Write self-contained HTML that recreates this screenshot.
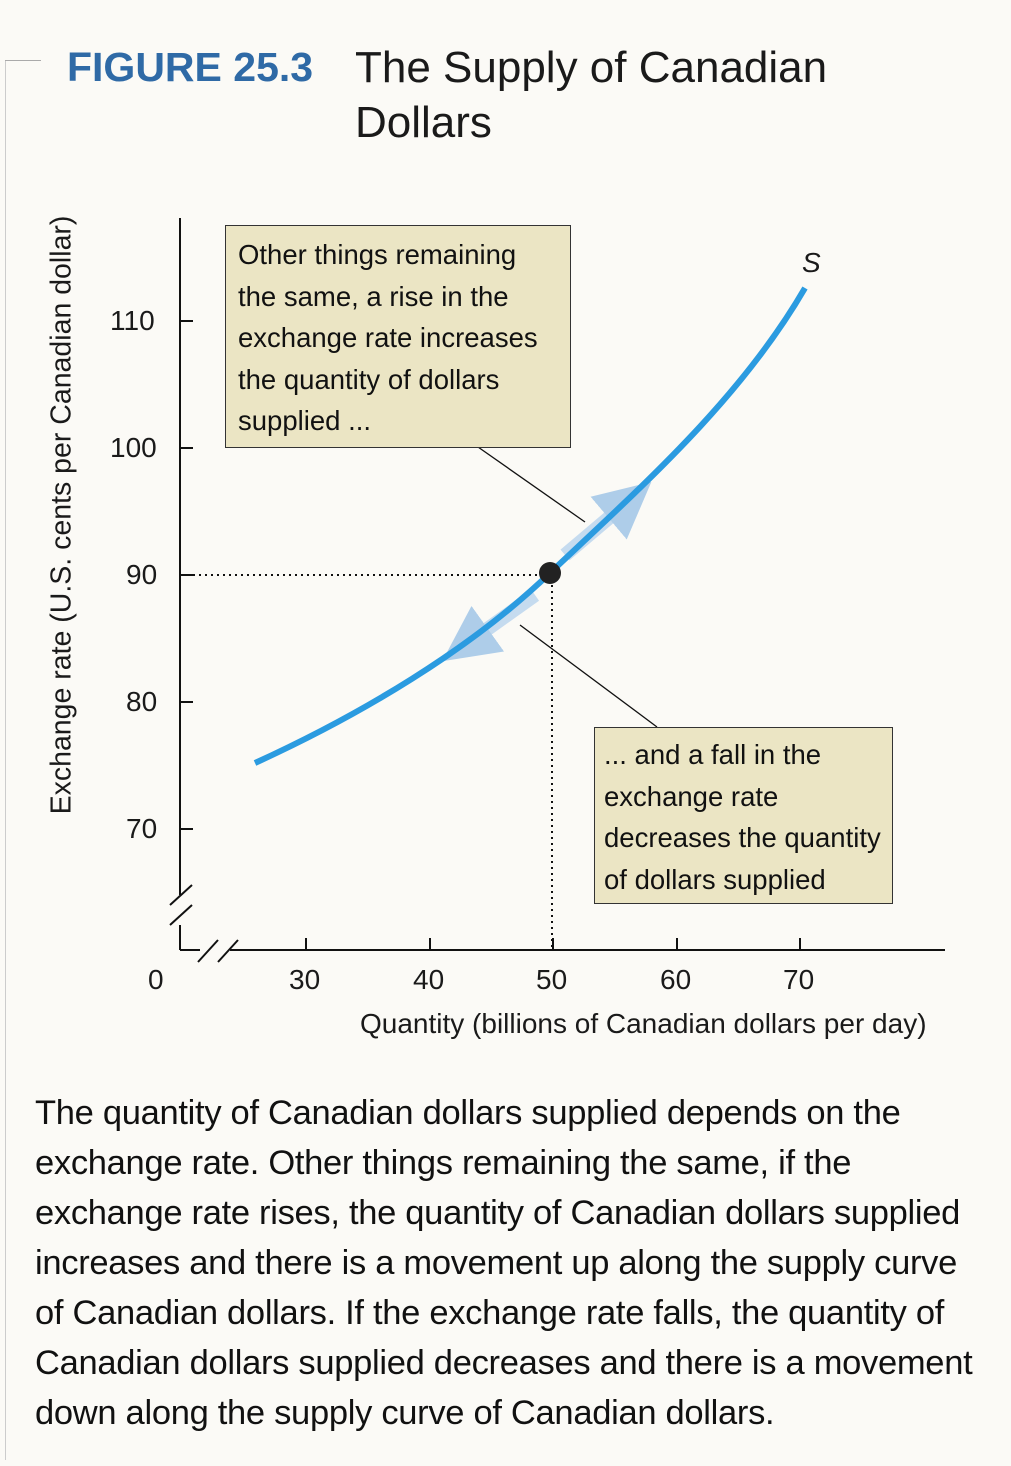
<!DOCTYPE html>
<html><head><meta charset="utf-8"><style>
body{margin:0;width:1011px;height:1466px;background:#fbfaf6;overflow:hidden;position:relative;font-family:"Liberation Sans",sans-serif;}
.t{position:absolute;white-space:nowrap;color:#1a1a1a;}
.box{position:absolute;background:#ebe5c4;border:1.5px solid #333;box-sizing:border-box;}
.box div{font-size:27.5px;line-height:41.5px;color:#111;}
.cap{position:absolute;left:35px;top:1088px;font-size:34.5px;line-height:50px;color:#111;letter-spacing:-0.3px;white-space:nowrap;}
</style></head><body>
<div style="position:absolute;left:5px;top:60px;width:1px;height:1400px;background:#ccc"></div>
<div style="position:absolute;left:5px;top:60px;width:36px;height:1px;background:#aaa"></div>
<div class="t" style="left:67px;top:44px;font-size:41px;font-weight:bold;color:#2f6aa6;">FIGURE 25.3</div>
<div class="t" style="left:355px;top:40px;font-size:44px;line-height:55px;">The Supply of Canadian<br>Dollars</div>

<svg style="position:absolute;left:0;top:0" width="1011" height="1466">
<defs><marker id="a" markerWidth="4" markerHeight="4" refX="2" refY="2" orient="auto"><path d="M0,0 L4,2 L0,4z" fill="#9cc3e6"/></marker></defs>
<line x1="180" y1="218" x2="180" y2="895" stroke="#111" stroke-width="2"/>
<line x1="180" y1="925" x2="180" y2="950" stroke="#111" stroke-width="2"/>
<line x1="180" y1="950" x2="200" y2="950" stroke="#111" stroke-width="2"/>
<line x1="230" y1="950" x2="945" y2="950" stroke="#111" stroke-width="2"/>
<path d="M170,905 L192,885 M170,925 L192,905 M198,962 L218,940 M218,962 L238,940" stroke="#111" stroke-width="2"/>
<g stroke="#111" stroke-width="2">
<line x1="180" y1="321" x2="193" y2="321"/><line x1="180" y1="448" x2="193" y2="448"/><line x1="180" y1="575" x2="193" y2="575"/><line x1="180" y1="702" x2="193" y2="702"/><line x1="180" y1="829" x2="193" y2="829"/>
<line x1="306" y1="938" x2="306" y2="950"/><line x1="430" y1="938" x2="430" y2="950"/><line x1="553" y1="938" x2="553" y2="950"/><line x1="677" y1="938" x2="677" y2="950"/><line x1="800" y1="938" x2="800" y2="950"/>
</g>
<line x1="187" y1="575" x2="540" y2="575" stroke="#111" stroke-width="2" stroke-dasharray="2,4"/>
<line x1="552" y1="585" x2="552" y2="948" stroke="#111" stroke-width="2" stroke-dasharray="2,4"/>
<line x1="478" y1="447" x2="585" y2="522" stroke="#111" stroke-width="1.3"/>
<line x1="520" y1="625" x2="657" y2="727" stroke="#111" stroke-width="1.3"/>
<line x1="565" y1="555" x2="630" y2="500" stroke="#b8d4ee" stroke-width="14" marker-end="url(#a)" opacity="0.8"/>
<line x1="535" y1="595" x2="465" y2="645" stroke="#b8d4ee" stroke-width="14" marker-end="url(#a)" opacity="0.8"/>
<path d="M255,763 C360,715 470,650 550,573 C640,488 740,400 805,288" fill="none" stroke="#2b9be0" stroke-width="6"/>
<circle cx="550" cy="573" r="11" fill="#222"/>
</svg>

<div class="t" style="left:110px;top:305px;font-size:28px;">110</div>
<div class="t" style="left:110px;top:432px;font-size:28px;">100</div>
<div class="t" style="left:126px;top:559px;font-size:28px;">90</div>
<div class="t" style="left:126px;top:686px;font-size:28px;">80</div>
<div class="t" style="left:126px;top:813px;font-size:28px;">70</div>
<div class="t" style="left:148px;top:964px;font-size:28px;">0</div>
<div class="t" style="left:289px;top:964px;font-size:28px;">30</div>
<div class="t" style="left:413px;top:964px;font-size:28px;">40</div>
<div class="t" style="left:536px;top:964px;font-size:28px;">50</div>
<div class="t" style="left:660px;top:964px;font-size:28px;">60</div>
<div class="t" style="left:783px;top:964px;font-size:28px;">70</div>
<div class="t" style="left:360px;top:1008px;font-size:28px;">Quantity (billions of Canadian dollars per day)</div>
<div class="t" style="left:62px;top:515px;font-size:28.5px;transform:translate(-50%,-50%) rotate(-90deg);">Exchange rate (U.S. cents per Canadian dollar)</div>
<div class="t" style="left:802px;top:247px;font-size:28px;font-style:italic;">S</div>

<div class="box" style="left:225px;top:225px;width:346px;height:223px;padding:8px 0 0 12px;">
<div>Other things remaining</div><div>the same, a rise in the</div><div>exchange rate increases</div><div>the quantity of dollars</div><div>supplied ...</div></div>
<div class="box" style="left:594px;top:727px;width:299px;height:177px;padding:6px 0 0 9px;">
<div>... and a fall in the</div><div>exchange rate</div><div>decreases the quantity</div><div>of dollars supplied</div></div>

<div class="cap">The quantity of Canadian dollars supplied depends on the<br>exchange rate. Other things remaining the same, if the<br>exchange rate rises, the quantity of Canadian dollars supplied<br>increases and there is a movement up along the supply curve<br>of Canadian dollars. If the exchange rate falls, the quantity of<br>Canadian dollars supplied decreases and there is a movement<br>down along the supply curve of Canadian dollars.</div>
</body></html>
